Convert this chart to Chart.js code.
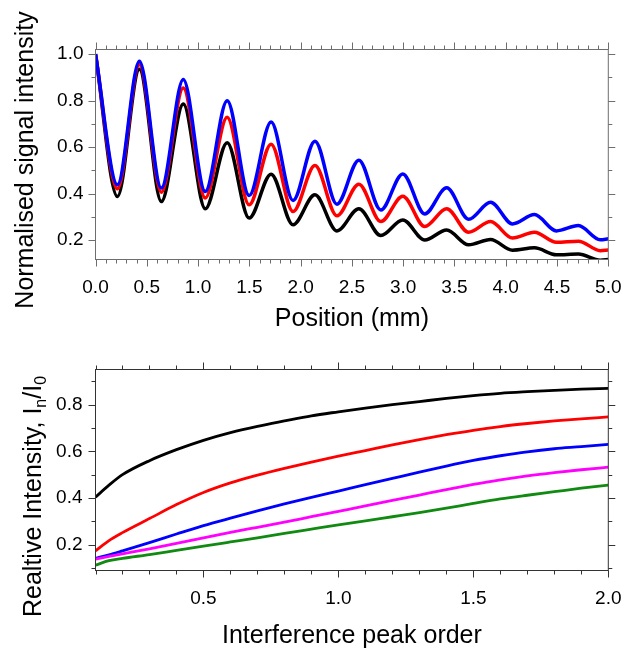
<!DOCTYPE html>
<html>
<head>
<meta charset="utf-8">
<script src="https://cdn.jsdelivr.net/npm/chart.js@4.4.1/dist/chart.umd.min.js"></script>
<style>
html,body{margin:0;padding:0;background:#ffffff;}
#wrap{position:relative;width:638px;height:657px;overflow:hidden;}
#c1{position:absolute;left:0;top:0;}
#c2{position:absolute;left:0;top:335px;}
</style>
</head>
<body>
<div id="wrap">
<canvas id="c1" width="638" height="335"></canvas>
<canvas id="c2" width="638" height="322"></canvas>
</div>
<script>
// ---------- Top panel data (peaks & troughs) ----------
const positionMm = [0, 0.214, 0.428, 0.642, 0.856, 1.07, 1.284, 1.498, 1.712, 1.926,
  2.14, 2.354, 2.568, 2.782, 2.996, 3.21, 3.424, 3.638, 3.852, 4.066, 4.28, 4.494, 4.708, 4.922, 5.0];
const blackSignal = [1.0, 0.388, 0.935, 0.366, 0.786, 0.335, 0.619, 0.295, 0.484, 0.266,
  0.395, 0.24, 0.335, 0.22, 0.287, 0.201, 0.244, 0.18, 0.203, 0.157, 0.167, 0.137, 0.141, 0.114, 0.117];
const redSignal = [1.0, 0.421, 0.955, 0.406, 0.854, 0.381, 0.729, 0.352, 0.613, 0.323,
  0.521, 0.305, 0.441, 0.28, 0.389, 0.259, 0.335, 0.234, 0.28, 0.209, 0.234, 0.191, 0.196, 0.155, 0.158];
const blueSignal = [1.0, 0.438, 0.97, 0.424, 0.891, 0.409, 0.80, 0.392, 0.708, 0.371,
  0.626, 0.355, 0.544, 0.33, 0.485, 0.313, 0.425, 0.29, 0.363, 0.27, 0.31, 0.24, 0.263, 0.202, 0.206];
const topXTicks = [0, 0.5, 1.0, 1.5, 2.0, 2.5, 3.0, 3.5, 4.0, 4.5, 5.0];
const topYTicks = [0.2, 0.4, 0.6, 0.8, 1.0];

// ---------- Bottom panel data ----------
const peakOrder = [0.1, 0.15, 0.2, 0.3, 0.4, 0.5, 0.6, 0.7, 0.8, 0.9, 1.0,
  1.1, 1.2, 1.3, 1.4, 1.5, 1.6, 1.7, 1.8, 1.9, 2.0];
const blackRel = [0.404, 0.455, 0.50, 0.56, 0.607, 0.647, 0.68, 0.707, 0.73, 0.752, 0.769,
  0.785, 0.80, 0.813, 0.826, 0.838, 0.848, 0.855, 0.861, 0.866, 0.869];
const redRel = [0.174, 0.218, 0.252, 0.312, 0.372, 0.424, 0.465, 0.498, 0.527, 0.554, 0.579,
  0.603, 0.627, 0.65, 0.671, 0.69, 0.706, 0.719, 0.73, 0.739, 0.747];
const blueRel = [0.142, 0.157, 0.174, 0.209, 0.246, 0.282, 0.314, 0.345, 0.375, 0.403, 0.43,
  0.457, 0.484, 0.511, 0.537, 0.561, 0.581, 0.598, 0.611, 0.62, 0.63];
const magentaRel = [0.139, 0.15, 0.161, 0.183, 0.206, 0.23, 0.253, 0.275, 0.297, 0.32, 0.343,
  0.366, 0.39, 0.413, 0.436, 0.458, 0.478, 0.495, 0.509, 0.521, 0.532];
const greenRel = [0.113, 0.132, 0.142, 0.158, 0.176, 0.194, 0.212, 0.23, 0.249, 0.267, 0.285,
  0.302, 0.32, 0.338, 0.357, 0.377, 0.396, 0.412, 0.427, 0.442, 0.455];
const bottomXTicks = [0.5, 1.0, 1.5, 2.0];
const bottomYTicks = [0.2, 0.4, 0.6, 0.8];

const FONT = "'Liberation Sans', Arial, Helvetica, sans-serif";

function pts(xs, ys) { return xs.map((x, i) => ({ x: x, y: ys[i] })); }
function setTicks(values) { return function (scale) { scale.ticks = values.map(v => ({ value: v })); }; }

function makeFrame(cfg) {
  return {
    id: 'frameTicks',
    afterDatasetsDraw(chart) {
      const ctx = chart.ctx;
      const a = chart.chartArea;
      const xs = chart.scales.x, ys = chart.scales.y;
      ctx.save();
      ctx.strokeStyle = cfg.color;
      ctx.lineWidth = 1;
      ctx.strokeRect(a.left, a.top, a.right - a.left, a.bottom - a.top);
      const isMajor = (v, arr) => arr.some(m => Math.abs(m - v) < 1e-6);
      ctx.beginPath();
      for (let k = Math.ceil(xs.min / cfg.xStep - 1e-6); k * cfg.xStep <= xs.max + 1e-6; k++) {
        const v = k * cfg.xStep;
        const px = Math.round(xs.getPixelForValue(v)) + 0.5;
        const len = isMajor(v, cfg.xMajor) ? cfg.major : cfg.minor;
        ctx.moveTo(px, a.bottom); ctx.lineTo(px, a.bottom + len);
        ctx.moveTo(px, a.top); ctx.lineTo(px, a.top - len);
      }
      for (let k = Math.ceil(ys.min / cfg.yStep - 1e-6); k * cfg.yStep <= ys.max + 1e-6; k++) {
        const v = k * cfg.yStep;
        const py = Math.round(ys.getPixelForValue(v)) + 0.5;
        const len = isMajor(v, cfg.yMajor) ? cfg.major : cfg.minor;
        ctx.moveTo(a.left, py); ctx.lineTo(a.left - len, py);
        ctx.moveTo(a.right, py); ctx.lineTo(a.right + len, py);
      }
      ctx.stroke();
      ctx.restore();
    }
  };
}

function makeYTitle(cfg) {
  return {
    id: 'yTitle',
    afterDraw(chart) {
      const ctx = chart.ctx;
      ctx.save();
      ctx.translate(cfg.x, cfg.y);
      ctx.rotate(-Math.PI / 2);
      ctx.fillStyle = '#000';
      ctx.textBaseline = 'alphabetic';
      ctx.textAlign = 'left';
      let total = 0;
      const widths = cfg.parts.map(p => { ctx.font = p.size + 'px ' + FONT; const w = ctx.measureText(p.t).width; total += w; return w; });
      let cx = cfg.align === 'center' ? -total / 2 : 0;
      cfg.parts.forEach((p, i) => {
        ctx.font = p.size + 'px ' + FONT;
        ctx.fillText(p.t, cx, p.dy || 0);
        cx += widths[i];
      });
      ctx.restore();
    }
  };
}

function lineDs(data, color, width) {
  return {
    data: data, borderColor: color, backgroundColor: color, borderWidth: width,
    pointRadius: 0, pointHoverRadius: 0, fill: false,
    cubicInterpolationMode: 'monotone',
    clip: { left: 0, top: 3, right: 0, bottom: 0 }
  };
}

const tickFont = { family: FONT, size: 19 };

// ---------- Top chart ----------
new Chart(document.getElementById('c1'), {
  type: 'line',
  data: {
    datasets: [
      lineDs(pts(positionMm, blueSignal), '#0000ff', 3.5),
      lineDs(pts(positionMm, redSignal), '#ff0000', 3.5),
      lineDs(pts(positionMm, blackSignal), '#000000', 3.5)
    ]
  },
  options: {
    responsive: false, animation: false, events: [],
    layout: { padding: { left: 0, right: 28.5, top: 49.5, bottom: 0 } },
    plugins: { legend: { display: false }, tooltip: { enabled: false } },
    scales: {
      x: {
        type: 'linear', min: 0, max: 5,
        afterBuildTicks: setTicks(topXTicks),
        afterFit: s => { s.height = 75.5; },
        grid: { display: false, drawTicks: false }, border: { display: false },
        ticks: { color: '#000', font: tickFont, padding: 16.5, maxRotation: 0, autoSkip: false,
          callback: v => Number(v).toFixed(1) },
        title: { display: true, text: 'Position (mm)', color: '#000',
          font: { family: FONT, size: 25 }, padding: { top: 0, bottom: 1 } }
      },
      y: {
        type: 'linear', min: 0.117, max: 1.02,
        afterBuildTicks: setTicks(topYTicks),
        afterFit: s => { s.width = 95.5; },
        grid: { display: false, drawTicks: false }, border: { display: false },
        ticks: { color: '#000', font: tickFont, padding: 12, autoSkip: false,
          callback: v => Number(v).toFixed(1) }
      }
    }
  },
  plugins: [
    makeFrame({ color: '#6e6e6e', xStep: 0.1, yStep: 0.1, xMajor: topXTicks, yMajor: topYTicks, major: 7, minor: 4 }),
    makeYTitle({ x: 33, y: 160, align: 'center', parts: [{ t: 'Normalised signal intensity', size: 25 }] })
  ]
});

// ---------- Bottom chart ----------
new Chart(document.getElementById('c2'), {
  type: 'line',
  data: {
    datasets: [
      lineDs(pts(peakOrder, blackRel), '#000000', 2.8),
      lineDs(pts(peakOrder, redRel), '#ff0000', 2.8),
      lineDs(pts(peakOrder, magentaRel), '#ff00ff', 2.8),
      lineDs(pts(peakOrder, blueRel), '#0000ff', 2.8),
      lineDs(pts(peakOrder, greenRel), '#118a11', 2.8)
    ]
  },
  options: {
    responsive: false, animation: false, events: [],
    layout: { padding: { left: 0, right: 28.5, top: 34.5, bottom: 0 } },
    plugins: { legend: { display: false }, tooltip: { enabled: false } },
    scales: {
      x: {
        type: 'linear', min: 0.1, max: 2.0,
        afterBuildTicks: setTicks(bottomXTicks),
        afterFit: s => { s.height = 86.5; },
        grid: { display: false, drawTicks: false }, border: { display: false },
        ticks: { color: '#000', font: tickFont, padding: 16.5, maxRotation: 0, autoSkip: false,
          callback: v => Number(v).toFixed(1) },
        title: { display: true, text: 'Interference peak order', color: '#000',
          font: { family: FONT, size: 25 }, padding: { top: 0, bottom: 6 } }
      },
      y: {
        type: 'linear', min: 0.09, max: 0.95,
        afterBuildTicks: setTicks(bottomYTicks),
        afterFit: s => { s.width = 95.5; },
        grid: { display: false, drawTicks: false }, border: { display: false },
        ticks: { color: '#000', font: tickFont, padding: 13, autoSkip: false,
          callback: v => Number(v).toFixed(1) }
      }
    }
  },
  plugins: [
    makeFrame({ color: '#333333', xStep: 0.1, yStep: 0.1, xMajor: bottomXTicks, yMajor: bottomYTicks, major: 7, minor: 4 }),
    makeYTitle({ x: 41, y: 282, align: 'start', parts: [
      { t: 'Realtive Intensity, I', size: 25 },
      { t: 'n', size: 16, dy: 5 },
      { t: '/I', size: 25 },
      { t: '0', size: 16, dy: 5 }
    ] })
  ]
});
</script>
</body>
</html>
